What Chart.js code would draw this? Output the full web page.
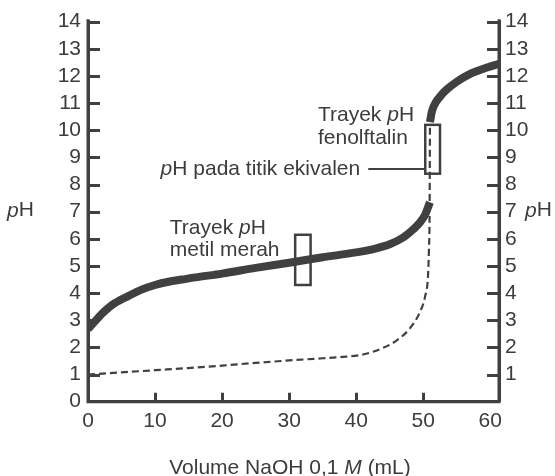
<!DOCTYPE html>
<html><head><meta charset="utf-8">
<script src="https://cdn.jsdelivr.net/npm/chart.js@4/dist/chart.umd.min.js"></script>
<style>html,body{margin:0;padding:0;background:#fff}#wrap{width:555px;height:476px}</style>
</head><body><div id="wrap"><canvas id="c" width="555" height="476"></canvas></div>
<script>
// ---- data ----
const xTickValues = [0, 10, 20, 30, 40, 50, 60];
const yTickValuesLeft = [0, 1, 2, 3, 4, 5, 6, 7, 8, 9, 10, 11, 12, 13, 14];
const yTickValuesRight = [1, 2, 3, 4, 5, 6, 7, 8, 9, 10, 11, 12, 13, 14];

// weak acid curve (solid), before equivalence
const weakLowVolume = [0, 1, 2, 3, 4, 6, 8, 10, 12, 14, 16, 20, 25, 30, 35, 40, 43, 45, 47, 48.5, 49.5, 50.3, 51];
const weakLowPH     = [2.68, 2.95, 3.22, 3.45, 3.63, 3.89, 4.13, 4.3, 4.42, 4.5, 4.58, 4.72, 4.93, 5.12, 5.32, 5.5, 5.65, 5.8, 6.05, 6.35, 6.6, 6.9, 7.35];
// solid curve after equivalence
const weakHighVolume = [51.0, 51.3, 51.8, 52.5, 53.5, 55, 57, 59, 61.3];
const weakHighPH     = [10.3, 10.7, 11.0, 11.24, 11.5, 11.79, 12.08, 12.27, 12.45];
// strong acid curve (dashed)
const strongVolume = [0, 5, 10, 15, 20, 25, 30, 35, 38, 41, 43.5, 46, 48, 49.5, 50.3, 50.7, 50.85, 50.95, 51.0];
const strongPH     = [1.0, 1.08, 1.16, 1.24, 1.33, 1.43, 1.52, 1.6, 1.65, 1.74, 1.93, 2.25, 2.7, 3.3, 3.9, 4.6, 5.6, 7.0, 10.2];

// indicator ranges (pH) and the volume span of their boxes
const methylRedRange = [4.3, 6.15];
const methylRedBoxVolume = [30.9, 33.2];
const phenolRange = [8.4, 10.2];
const phenolBoxVolume = [50.3, 52.5];
const equivalencePH = 8.57;

const xMax = 61.3;
const INK = '#404040';
const TXT = '#3c3c3c';
const FONT = '"Liberation Sans", Arial, Helvetica, sans-serif';
const FS = 21;

const toPts = (xs, ys) => xs.map((v, i) => ({x: v, y: ys[i]}));

function drawRuns(ctx, runs, x, y, align) {
  let total = 0;
  runs.forEach(r => { ctx.font = (r.i ? 'italic ' : '') + FS + 'px ' + FONT; r.w = ctx.measureText(r.t).width; total += r.w; });
  let cx = align === 'right' ? x - total : (align === 'center' ? x - total / 2 : x);
  ctx.textAlign = 'left';
  runs.forEach(r => { ctx.font = (r.i ? 'italic ' : '') + FS + 'px ' + FONT; ctx.fillText(r.t, cx, y); cx += r.w; });
}

const decor = {
  id: 'decor',
  afterDatasetsDraw(chart) {
    const {ctx, chartArea: a, scales: {x, y}} = chart;
    ctx.save();
    ctx.strokeStyle = INK; ctx.fillStyle = INK;
    // axis frame lines (left, bottom, right)
    ctx.lineWidth = 3;
    ctx.lineCap = 'square';
    ctx.beginPath();
    ctx.moveTo(a.left, a.top - 1); ctx.lineTo(a.left, a.bottom); ctx.lineTo(a.right, a.bottom); ctx.lineTo(a.right, a.top - 1);
    ctx.stroke();
    ctx.lineCap = 'butt';
    // inward tick marks
    ctx.beginPath();
    yTickValuesLeft.filter(v => v > 0).forEach(v => { const p = Math.round(y.getPixelForValue(v)) + 0.5; ctx.moveTo(a.left, p); ctx.lineTo(a.left + 12, p); });
    yTickValuesRight.forEach(v => { const p = Math.round(y.getPixelForValue(v)) + 0.5; ctx.moveTo(a.right, p); ctx.lineTo(a.right - 12, p); });
    xTickValues.filter(v => v > 0 && v < 60).forEach(v => { const p = Math.round(x.getPixelForValue(v)) + 0.5; ctx.moveTo(p, a.bottom); ctx.lineTo(p, a.bottom - 9); });
    ctx.stroke();
    // indicator boxes
    ctx.lineWidth = 2.5;
    const box = (vr, pr) => {
      const x0 = x.getPixelForValue(vr[0]), x1 = x.getPixelForValue(vr[1]);
      const y0 = y.getPixelForValue(pr[1]), y1 = y.getPixelForValue(pr[0]);
      ctx.strokeRect(x0, y0, x1 - x0, y1 - y0);
    };
    box(methylRedBoxVolume, methylRedRange);
    box(phenolBoxVolume, phenolRange);
    // equivalence pointer line
    ctx.lineWidth = 2;
    const ey = y.getPixelForValue(equivalencePH);
    ctx.beginPath(); ctx.moveTo(x.getPixelForValue(41.8), ey); ctx.lineTo(x.getPixelForValue(phenolBoxVolume[0]), ey); ctx.stroke();
    // texts
    ctx.fillStyle = TXT; ctx.textBaseline = 'alphabetic';
    drawRuns(ctx, [{t:'Trayek '}, {t:'p', i:true}, {t:'H'}], x.getPixelForValue(12.2), y.getPixelForValue(6.17), 'left');
    drawRuns(ctx, [{t:'metil merah'}], x.getPixelForValue(12.2), y.getPixelForValue(5.36), 'left');
    drawRuns(ctx, [{t:'Trayek '}, {t:'p', i:true}, {t:'H'}], x.getPixelForValue(34.3), y.getPixelForValue(10.35), 'left');
    drawRuns(ctx, [{t:'fenolftalin'}], x.getPixelForValue(34.3), y.getPixelForValue(9.5), 'left');
    drawRuns(ctx, [{t:'p', i:true}, {t:'H pada titik ekivalen'}], x.getPixelForValue(40.6), ey + 6, 'right');
    // axis titles
    ctx.textBaseline = 'middle';
    const py = y.getPixelForValue(7) - 1;
    drawRuns(ctx, [{t:'p', i:true}, {t:'H'}], 7, py, 'left');
    drawRuns(ctx, [{t:'p', i:true}, {t:'H'}], 525, py, 'left');
    ctx.textBaseline = 'alphabetic';
    drawRuns(ctx, [{t:'Volume NaOH 0,1 '}, {t:'M', i:true}, {t:' (mL)'}], 290, 474, 'center');
    ctx.restore();
  }
};

const tickFont = {family: FONT, size: FS};
new Chart(document.getElementById('c'), {
  type: 'line',
  data: {
    datasets: [
      {data: toPts(weakLowVolume, weakLowPH), borderColor: INK, borderWidth: 8, pointRadius: 0, fill: false, cubicInterpolationMode: 'monotone', borderCapStyle: 'butt', yAxisID: 'y'},
      {data: toPts(weakHighVolume, weakHighPH), borderColor: INK, borderWidth: 8, pointRadius: 0, fill: false, cubicInterpolationMode: 'monotone', borderCapStyle: 'butt', yAxisID: 'y'},
      {data: toPts(strongVolume, strongPH), borderColor: INK, borderWidth: 2.2, borderDash: [7, 4], pointRadius: 0, fill: false, cubicInterpolationMode: 'monotone', yAxisID: 'y'}
    ]
  },
  options: {
    responsive: false, animation: false, devicePixelRatio: 1,
    layout: {padding: {top: 21.7, left: 0, right: 0, bottom: 0}},
    plugins: {legend: {display: false}, tooltip: {enabled: false}},
    scales: {
      x: {type: 'linear', position: 'bottom', min: 0, max: xMax,
        afterBuildTicks: s => { s.ticks = xTickValues.map(v => ({value: v})); },
        afterFit: s => { s.height = 476 - 401.7; },
        grid: {display: false, drawTicks: false},
        border: {display: true, color: INK, width: 3},
        ticks: {font: tickFont, color: TXT, padding: 7, maxRotation: 0, autoSkip: false}},
      y: {type: 'linear', position: 'left', min: 0, max: 14,
        afterBuildTicks: s => { s.ticks = yTickValuesLeft.map(v => ({value: v})); },
        afterFit: s => { s.width = 88; },
        grid: {display: false, drawTicks: false},
        border: {display: true, color: INK, width: 3},
        ticks: {font: tickFont, color: TXT, padding: 7, autoSkip: false}},
      y2: {type: 'linear', position: 'right', min: 0, max: 14,
        afterBuildTicks: s => { s.ticks = yTickValuesRight.map(v => ({value: v})); },
        afterFit: s => { s.width = 56; },
        grid: {display: false, drawTicks: false},
        border: {display: true, color: INK, width: 3},
        ticks: {font: tickFont, color: TXT, padding: 6, autoSkip: false}}
    }
  },
  plugins: [decor]
});
</script></body></html>
